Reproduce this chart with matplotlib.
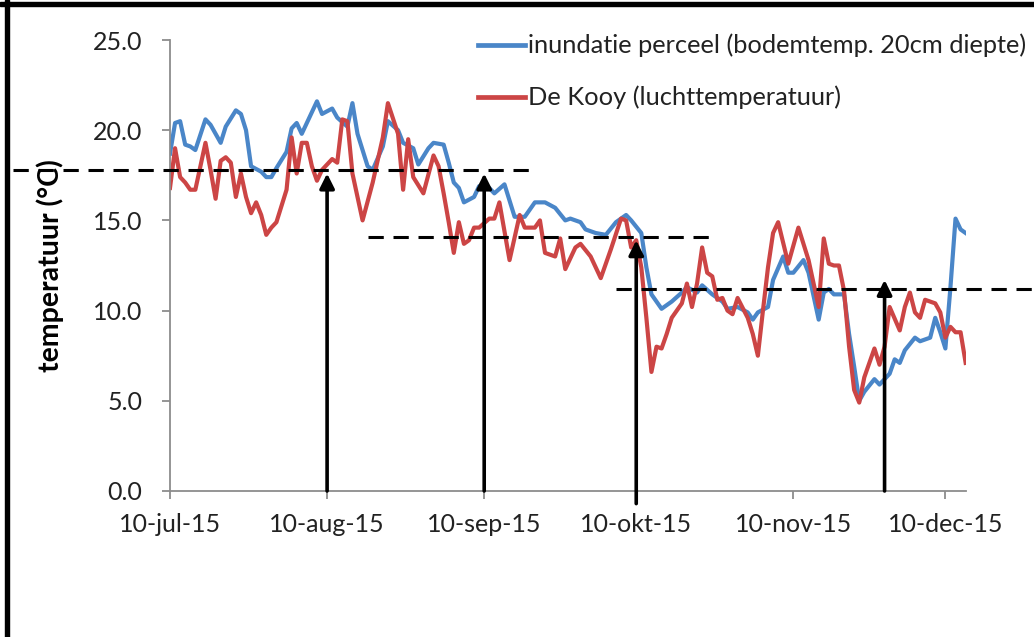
import numpy as np
import matplotlib
matplotlib.use('Agg')
import matplotlib.pyplot as plt
from matplotlib.patches import Rectangle

plt.rcParams['font.family'] = ['Lato', 'DejaVu Sans']
plt.rcParams['lines.scale_dashes'] = False

# dagen na 10-jul-15 en temperatuur (graden C)
blue_day = [0, 1, 2, 3, 4, 5, 7, 8, 10, 11, 13, 14, 15, 16, 18, 19, 20, 21, 23, 24,
            25, 26, 27, 29, 30, 32, 33, 35, 36, 37, 39, 40, 42, 43, 45, 46, 48, 49, 51, 52,
            54, 55, 56, 57, 58, 60, 61, 63, 64, 66, 68, 70, 72, 74, 76, 78, 79, 81, 82, 84,
            86, 88, 90, 91, 93, 94, 95, 96, 97, 99, 101, 102, 104, 105, 107, 109, 110, 112, 114, 115,
            116, 118, 119, 121, 122, 123, 125, 126, 128, 129, 130, 131, 133, 134, 135, 136, 137, 139, 140, 142,
            143, 144, 145, 147, 148, 150, 151, 152, 153, 154, 155, 156, 157]
blue_temp = [18.7, 20.4, 20.5, 19.2, 19.1, 18.9, 20.6, 20.3, 19.3, 20.2, 21.1, 20.9, 20.0, 18.0, 17.7, 17.4, 17.4, 17.9, 18.8, 20.1,
             20.4, 19.8, 20.4, 21.6, 20.9, 21.2, 20.7, 20.2, 21.5, 19.8, 18.0, 17.8, 19.1, 20.5, 20.0, 19.3, 19.0, 18.1, 19.0, 19.3,
             19.2, 18.2, 17.1, 16.8, 16.0, 16.3, 16.9, 16.8, 16.5, 17.0, 15.2, 15.2, 16.0, 16.0, 15.7, 15.0, 15.1, 14.9, 14.5, 14.3,
             14.2, 14.9, 15.3, 15.0, 14.3, 12.4, 10.9, 10.5, 10.1, 10.5, 11.0, 11.3, 11.0, 11.4, 10.9, 10.5, 10.1, 10.2, 9.9, 9.5,
             9.9, 10.2, 11.7, 13.0, 12.1, 12.1, 12.8, 12.1, 9.5, 11.0, 11.2, 10.9, 10.9, 8.7, 6.9, 5.0, 5.5, 6.2, 5.9, 6.5,
             7.3, 7.1, 7.8, 8.5, 8.3, 8.5, 9.6, 8.8, 7.9, 11.3, 15.1, 14.5, 14.3]

red_day = [0, 1, 2, 3, 4, 5, 7, 8, 9, 10, 11, 12, 13, 14, 15, 16, 17, 18, 19, 20,
           21, 23, 24, 25, 26, 27, 28, 29, 30, 31, 32, 33, 34, 35, 36, 38, 40, 42, 43, 45,
           46, 47, 48, 50, 52, 53, 54, 55, 56, 57, 58, 59, 60, 61, 63, 64, 65, 67, 69, 70,
           72, 73, 74, 76, 77, 78, 80, 81, 83, 85, 87, 89, 90, 91, 92, 93, 94, 95, 96, 97,
           98, 99, 101, 102, 103, 104, 105, 106, 107, 108, 109, 110, 111, 112, 114, 115, 116, 117, 118, 119,
           120, 122, 124, 125, 126, 128, 129, 130, 131, 132, 133, 134, 135, 136, 137, 139, 140, 141, 142, 144,
           145, 146, 147, 148, 149, 151, 152, 153, 154, 155, 156, 157]
red_temp = [16.8, 19.0, 17.4, 17.1, 16.7, 16.7, 19.3, 17.8, 16.2, 18.3, 18.5, 18.2, 16.3, 17.6, 16.3, 15.4, 16.0, 15.3, 14.2, 14.6,
            14.9, 16.7, 19.6, 17.6, 19.3, 19.3, 18.0, 17.2, 17.8, 18.1, 18.4, 18.2, 20.6, 20.5, 17.6, 15.0, 17.1, 19.6, 21.5, 19.8,
            16.7, 19.5, 17.4, 16.5, 18.6, 18.0, 16.5, 14.9, 13.2, 14.9, 13.7, 13.9, 14.6, 14.6, 15.1, 15.1, 16.0, 12.8, 15.3, 14.6,
            14.6, 15.0, 13.2, 13.0, 14.0, 12.3, 13.5, 13.7, 13.0, 11.8, 13.4, 15.1, 15.0, 13.5, 13.9, 12.4, 9.6, 6.6, 8.0, 7.9,
            8.7, 9.6, 10.4, 11.5, 10.2, 11.5, 13.5, 12.1, 11.9, 10.6, 10.7, 10.0, 9.8, 10.7, 9.6, 8.7, 7.5, 10.0, 12.4, 14.3,
            14.9, 12.6, 14.6, 13.7, 12.8, 10.2, 14.0, 12.6, 12.5, 12.5, 11.1, 8.0, 5.6, 4.9, 6.3, 7.9, 7.0, 8.0, 10.2, 8.9,
            10.2, 11.0, 9.9, 9.6, 10.6, 10.4, 9.9, 8.5, 9.1, 8.8, 8.8, 7.1]

blue_label = 'inundatie perceel (bodemtemp. 20cm diepte)'
red_label = 'De Kooy (luchttemperatuur)'

tick_dates = ['2015-07-10', '2015-08-10', '2015-09-10', '2015-10-10', '2015-11-10', '2015-12-10']
tick_labels = ['10-jul-15', '10-aug-15', '10-sep-15', '10-okt-15', '10-nov-15', '10-dec-15']
y_ticks = [0, 5, 10, 15, 20, 25]

# gestreepte niveaus: temperatuur, van, tot
ref_level = [17.8, 14.1, 11.2]
ref_start = ['2015-06-09', '2015-08-18', '2015-10-06']
ref_end = ['2015-09-19', '2015-10-25', '2015-12-28']

# pijlen: datum, onderkant, punt
arrow_date = ['2015-08-10', '2015-09-10', '2015-10-10', '2015-11-28']
arrow_from = [0.0, 0.0, -0.7, 0.0]
arrow_to = [17.6, 17.6, 13.9, 11.7]

base = np.datetime64('2015-07-10')
blue_x = base + np.array(blue_day, dtype='timedelta64[D]')
red_x = base + np.array(red_day, dtype='timedelta64[D]')

fig = plt.figure(figsize=(10.34, 6.37), dpi=100)
ax = fig.add_axes([0.1644, 0.2292, 0.7695, 0.708])

ax.plot(blue_x, blue_temp, color='#4a86c8', lw=3.0, solid_joinstyle='round')
ax.plot(red_x, red_temp, color='#cc4545', lw=3.0, solid_joinstyle='round')

for lvl, s, e in zip(ref_level, ref_start, ref_end):
    ax.plot([np.datetime64(s), np.datetime64(e)], [lvl, lvl], color='black', lw=2.2,
            dashes=(11, 7), clip_on=False, zorder=5)

for d, y0, y1 in zip(arrow_date, arrow_from, arrow_to):
    ax.annotate('', xy=(np.datetime64(d), y1), xytext=(np.datetime64(d), y0),
                arrowprops=dict(arrowstyle='-|>', color='black', lw=2.6, mutation_scale=22,
                                shrinkA=0, shrinkB=0),
                annotation_clip=False, zorder=6)

ax.set_xlim(base, base + np.timedelta64(157, 'D'))
ax.set_ylim(0, 25)
ax.set_xticks([np.datetime64(t) for t in tick_dates])
ax.set_xticklabels(tick_labels)
ax.set_yticks(y_ticks)
ax.set_yticklabels([f'{v:.1f}' for v in y_ticks])

for side in ['top', 'right']:
    ax.spines[side].set_visible(False)
for side in ['left', 'bottom']:
    ax.spines[side].set_color('#8c8c8c')
    ax.spines[side].set_linewidth(1.3)
ax.tick_params(axis='both', colors='#8c8c8c', labelcolor='#222222', labelsize=18,
               length=6, width=1.3, direction='out')
ax.tick_params(axis='x', pad=10)
ax.tick_params(axis='y', pad=14)
ax.set_ylabel('temperatuur (°C)', fontsize=20.5, fontweight='bold', labelpad=21)

# legenda rechtsboven
fig.add_artist(plt.Line2D([0.462, 0.508], [0.929, 0.929], color='#4a86c8', lw=3.4))
fig.text(0.511, 0.929, blue_label, fontsize=18.3, va='center', color='#222222')
fig.add_artist(plt.Line2D([0.462, 0.508], [0.848, 0.848], color='#cc4545', lw=3.4))
fig.text(0.511, 0.848, red_label, fontsize=18.3, va='center', color='#222222')

# kader van de afbeelding
fig.add_artist(Rectangle((0.0, 0.991), 1.0, 0.006, transform=fig.transFigure, color='black'))
fig.add_artist(Rectangle((0.005, 0.0), 0.004, 1.0, transform=fig.transFigure, color='black'))

fig.savefig('out.png', dpi=100)
